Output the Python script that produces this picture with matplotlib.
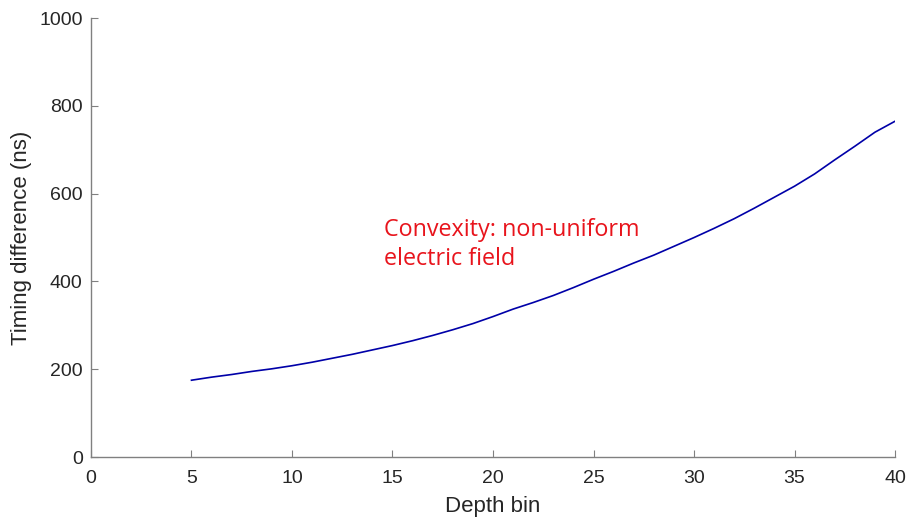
import matplotlib.pyplot as plt

# Depth bins and timing difference (ns)
depth_bin = list(range(5, 41))
timing_ns = [175, 182, 188, 195, 201, 208, 216, 225, 234, 244,
             254, 265, 277, 290, 304, 320, 337, 352, 368, 386,
             405, 423, 442, 460, 480, 500, 521, 543, 567, 592,
             617, 645, 677, 708, 740, 765]

x_ticks = [0, 5, 10, 15, 20, 25, 30, 35, 40]
y_ticks = [0, 200, 400, 600, 800, 1000]

plt.rcParams['font.family'] = ['Liberation Sans', 'DejaVu Sans']

fig = plt.figure(figsize=(9.07, 5.17), dpi=100)
ax = fig.add_axes([0.1003, 0.116, 0.8865, 0.849])

ax.plot(depth_bin, timing_ns, color='#0000a8', linewidth=1.2)

ax.set_xlim(0, 40)
ax.set_ylim(0, 1000)
ax.set_xticks(x_ticks)
ax.set_yticks(y_ticks)

for side in ['top', 'right']:
    ax.spines[side].set_visible(False)
for side in ['left', 'bottom']:
    ax.spines[side].set_color('#808080')
    ax.spines[side].set_linewidth(1.0)

ax.tick_params(direction='in', length=5, color='#808080', labelsize=14,
               labelcolor='#262626')
ax.tick_params(axis='x', pad=9)
ax.tick_params(axis='y', pad=6)

ax.set_xlabel('Depth bin', fontsize=16, color='#262626', labelpad=7)
ax.set_ylabel('Timing difference (ns)', fontsize=16, color='#262626', labelpad=5)

ax.text(14.6, 484, 'Convexity: non-uniform\nelectric field', color='#e8141c',
        fontsize=16.8, family=['Open Sans', 'DejaVu Sans'], va='center',
        linespacing=1.25)

fig.savefig('out.png', dpi=100)
